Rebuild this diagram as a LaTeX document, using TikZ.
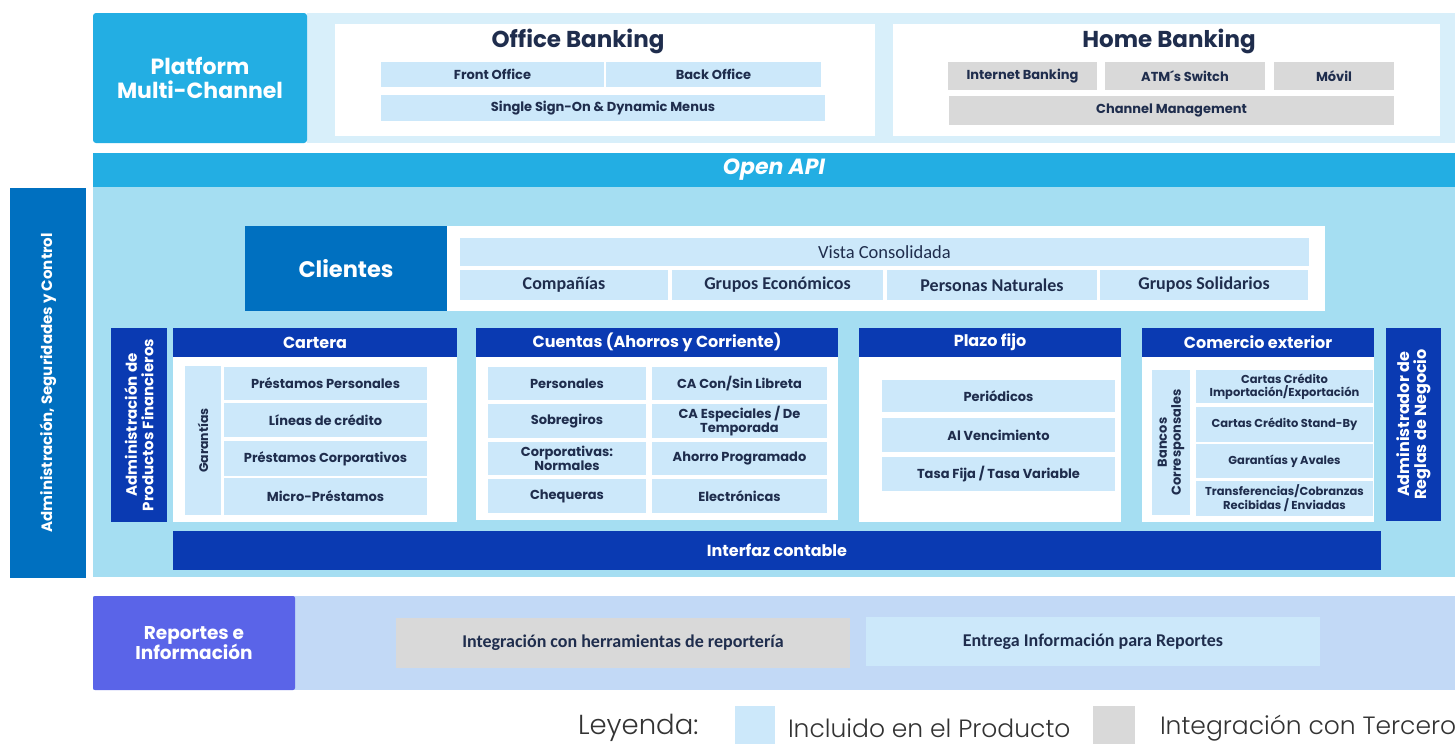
\documentclass[tikz,border=0pt]{standalone}
\usepackage{fontspec}
\setmainfont{Poppins}
\newfontfamily\condfont{Carlito}
\newfontfamily\lightfont{Poppins Light}
\definecolor{cyanb}{HTML}{23AEE3}
\definecolor{topbg}{HTML}{D8EFFA}
\definecolor{incl}{HTML}{CCE8FA}
\definecolor{terc}{HTML}{D9D9D9}
\definecolor{mainbg}{HTML}{A5DEF2}
\definecolor{midblue}{HTML}{0070C0}
\definecolor{darkb}{HTML}{0A3AB2}
\definecolor{navy}{HTML}{1F2D4D}
\definecolor{repbox}{HTML}{5A64E8}
\definecolor{repbg}{HTML}{C2D9F6}
\definecolor{legtxt}{HTML}{333333}
\newcommand\fs[1]{\fontsize{#1}{\fpeval{1.12*#1}}\selectfont}
\newcommand\bx[7]{\node[#6, minimum width={(#4-#2)*1pt}, minimum height={(#5-#3)*1pt}] (#1) at ({(#2+#4)/2},{(#3+#5)/2}) {#7};}
\tikzset{
  every node/.style={inner sep=0pt, outer sep=0pt, align=center},
  inc/.style={fill=incl, text=navy, font=\bfseries\fs{13}},
  ter/.style={fill=terc, text=navy, font=\bfseries\fs{13}},
  hdr/.style={fill=darkb, text=white, font=\bfseries\fs{16}},
  whitep/.style={fill=white},
  ttl/.style={text=navy, font=\bfseries\fs{23}},
  cond/.style={font=\condfont\bfseries\fs{18}},
  vtxt/.style={rotate=90, text=white, font=\bfseries\fs{15}, align=center},
  legend/.style={anchor=west, text=legtxt, font=\lightfont\fs{25}}
}
\begin{document}
\begin{tikzpicture}[x=1pt,y=-1pt]
\useasboundingbox (0,0) rectangle (1455,744);
\fill[white] (0,0) rectangle (1455,744);
% ---------- top platform ----------
\bx{topbg}{307}{13}{1455}{143}{fill=topbg}{}
\bx{pmc}{93}{13}{307}{143}{fill=cyanb, rounded corners=3pt, text=white, font=\bfseries\fs{22}}{Platform\\Multi-Channel}
\bx{ob}{335}{24}{875}{136}{whitep}{}
\node[ttl] (obt) at (578,41) {Office Banking};
\bx{fo}{381}{62}{604}{87}{inc}{Front Office}
\bx{bo}{606}{62}{821}{87}{inc}{Back Office}
\bx{sso}{381}{95}{825}{121}{inc}{Single Sign-On \& Dynamic Menus}
\bx{hb}{893}{24}{1440}{136}{whitep}{}
\node[ttl] (hbt) at (1169,41) {Home Banking};
\bx{ib}{948}{62}{1097}{90}{ter}{Internet Banking}
\bx{atm}{1105}{62}{1265}{90}{ter}{ATM´s Switch}
\bx{mov}{1274}{62}{1394}{90}{ter}{Móvil}
\bx{cm}{949}{96}{1394}{125}{ter}{Channel Management}
% ---------- Open API & core ----------
\bx{main}{93}{187}{1455}{577}{fill=mainbg}{}
\bx{api}{93}{153}{1455}{187}{fill=cyanb, text=white, font=\bfseries\itshape\fs{22}}{Open API}
\bx{asc}{10}{188}{86}{578}{fill=midblue}{}
\node[vtxt] (asct) at (asc.center) {Administración, Seguridades y Control};
% Clientes
\bx{cli}{245}{226}{447}{311}{fill=midblue, text=white, font=\bfseries\fs{22.5}}{Clientes}
\bx{clip}{447}{226}{1325}{311}{whitep}{}
\bx{vc}{460}{238}{1309}{266}{inc, cond, font=\condfont\fs{18.5}}{Vista Consolidada}
\bx{comp}{460}{270}{668}{300}{inc, cond}{Compañías}
\bx{ge}{672}{270}{883}{300}{inc, cond}{Grupos Económicos}
\bx{pn}{887}{270}{1097}{300}{inc, cond}{Personas Naturales}
\bx{gs}{1100}{270}{1308}{300}{inc, cond}{Grupos Solidarios}
% Admin productos
\bx{apf}{111}{328}{167}{522}{fill=darkb}{}
\node[vtxt, font=\bfseries\fontsize{15}{16.5}\selectfont] (apft) at (apf.center) {Administración de\\Productos Financieros};
% Cartera
\bx{cart}{173}{328}{457}{357}{hdr}{Cartera}
\bx{cartb}{173}{357}{457}{522}{whitep}{}
\bx{gar}{185}{366}{221}{515}{fill=incl}{}
\node[vtxt, text=navy, font=\bfseries\fs{12.5}] (gart) at (gar.center) {Garantías};
\bx{pp}{224}{367}{427}{400}{inc}{Préstamos Personales}
\bx{lc}{224}{403}{427}{437}{inc}{Líneas de crédito}
\bx{pc}{224}{441}{427}{476}{inc}{Préstamos Corporativos}
\bx{mp}{224}{478}{427}{515}{inc}{Micro-Préstamos}
% Cuentas
\bx{cue}{476}{328}{838}{357}{hdr}{Cuentas (Ahorros y Corriente)}
\bx{cueb}{476}{357}{838}{520}{whitep}{}
\bx{cper}{488}{367}{646}{400}{inc}{Personales}
\bx{csob}{488}{404}{646}{438}{inc}{Sobregiros}
\bx{ccor}{488}{442}{646}{475}{inc, font=\bfseries\fontsize{13}{14}\selectfont}{Corporativas:\\Normales}
\bx{cche}{488}{479}{646}{513}{inc}{Chequeras}
\bx{ccon}{652}{367}{827}{400}{inc}{CA Con/Sin Libreta}
\bx{cesp}{652}{404}{827}{438}{inc, font=\bfseries\fontsize{13}{14}\selectfont}{CA Especiales / De\\Temporada}
\bx{cahp}{652}{442}{827}{475}{inc}{Ahorro Programado}
\bx{cele}{652}{479}{827}{513}{inc}{Electrónicas}
% Plazo fijo
\bx{pf}{859}{328}{1121}{357}{hdr}{Plazo fijo}
\bx{pfb}{859}{357}{1121}{522}{whitep}{}
\bx{pper}{882}{380}{1115}{412}{inc}{Periódicos}
\bx{pven}{882}{418}{1115}{452}{inc}{Al Vencimiento}
\bx{ptas}{882}{457}{1115}{491}{inc}{Tasa Fija / Tasa Variable}
% Comercio exterior
\bx{ce}{1142}{328}{1374}{357}{hdr}{Comercio exterior}
\bx{ceb}{1142}{357}{1374}{522}{whitep}{}
\bx{bc}{1152}{370}{1190}{515}{fill=incl}{}
\node[vtxt, text=navy, font=\bfseries\fontsize{13}{14}\selectfont] (bct) at (bc.center) {Bancos\\Corresponsales};
\bx{cci}{1196}{370}{1373}{403}{inc, font=\bfseries\fontsize{11.5}{13}\selectfont}{Cartas Crédito\\Importación/Exportación}
\bx{ccs}{1196}{407}{1373}{442}{inc, font=\bfseries\fs{11.5}}{Cartas Crédito Stand-By}
\bx{gya}{1196}{444}{1373}{478}{inc, font=\bfseries\fs{11.5}}{Garantías y Avales}
\bx{tcr}{1196}{481}{1373}{516}{inc, font=\bfseries\fontsize{11.5}{13}\selectfont}{Transferencias/Cobranzas\\Recibidas / Enviadas}
% Admin reglas
\bx{arn}{1386}{328}{1441}{521}{fill=darkb}{}
\node[vtxt, font=\bfseries\fontsize{16}{17}\selectfont] (arnt) at (arn.center) {Administrador de\\Reglas de Negocio};
% Interfaz
\bx{ic}{173}{531}{1381}{570}{hdr}{Interfaz contable}
% ---------- Reportes ----------
\bx{repbg}{93}{596}{1455}{690}{fill=repbg}{}
\bx{rep}{93}{596}{295}{690}{fill=repbox, rounded corners=2pt, text=white, font=\bfseries\fs{18.5}}{Reportes e\\Información}
\bx{ihr}{396}{618}{850}{668}{ter, cond}{Integración con herramientas de reportería}
\bx{eir}{866}{617}{1320}{666}{inc, cond}{Entrega Información para Reportes}
% ---------- Legend ----------
\node[legend, font=\lightfont\fs{27.5}] (ley) at (578,728) {Leyenda:};
\bx{lgi}{735}{706}{775}{744}{fill=incl}{}
\node[legend] (lgit) at (788,728) {Incluido en el Producto};
\bx{lgt}{1093}{706}{1135}{744}{fill=terc}{}
\node[legend] (lgtt) at (1160,728) {Integración con Tercero};
\end{tikzpicture}
\end{document}
